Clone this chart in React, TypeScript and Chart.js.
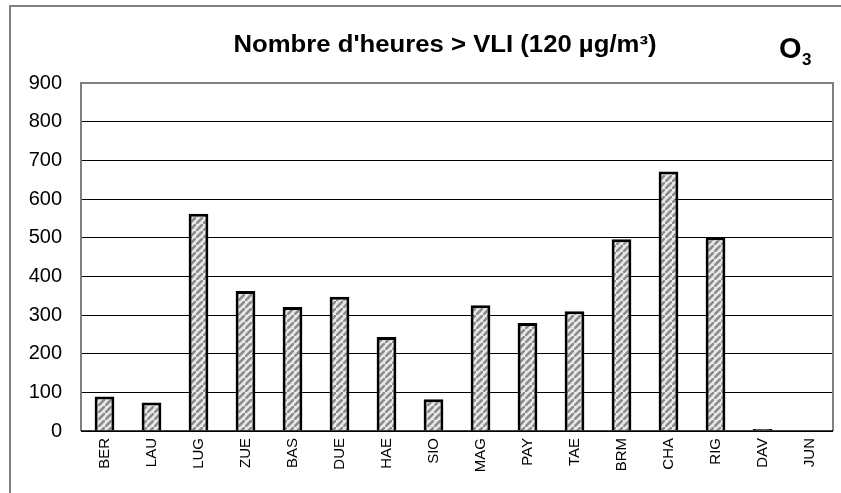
import React, { useEffect, useRef } from "react";
import { Chart, registerables } from "chart.js";

Chart.register(...registerables);

const stations = ["BER", "LAU", "LUG", "ZUE", "BAS", "DUE", "HAE", "SIO", "MAG", "PAY", "TAE", "BRM", "CHA", "RIG", "DAV", "JUN"];
const hoursAboveLimit = [89, 74, 562, 362, 321, 347, 243, 82, 325, 279, 310, 496, 671, 501, 5, 0];
const yTicks = [0, 100, 200, 300, 400, 500, 600, 700, 800, 900];
const titleText = "Nombre d'heures > VLI (120 µg/m³)";

function makePattern(): CanvasPattern | string {
  const s = 7;
  const c = document.createElement("canvas");
  c.width = s;
  c.height = s;
  const g = c.getContext("2d");
  if (!g) return "#aaa";
  g.fillStyle = "#e8e8e8";
  g.fillRect(0, 0, s, s);
  g.strokeStyle = "#8c8c8c";
  g.lineWidth = 2.6;
  const seg = (x1: number, y1: number, x2: number, y2: number) => {
    g.beginPath();
    g.moveTo(x1, y1);
    g.lineTo(x2, y2);
    g.stroke();
  };
  seg(-1, s + 1, s + 1, -1);
  seg(-s - 1, 1, 1, -s - 1);
  seg(s - 1, 2 * s + 1, 2 * s + 1, s - 1);
  const p = g.createPattern(c, "repeat");
  return p || "#aaa";
}

const decorPlugin = {
  id: "decor",
  afterDraw(chart: any) {
    const ctx = chart.ctx as CanvasRenderingContext2D;
    const a = chart.chartArea;
    ctx.save();
    // outer frame (left and top visible)
    ctx.strokeStyle = "#808080";
    ctx.lineWidth = 2;
    ctx.beginPath();
    ctx.moveTo(10, 493);
    ctx.lineTo(10, 6);
    ctx.lineTo(841, 6);
    ctx.stroke();
    // plot border
    ctx.strokeStyle = "#808080";
    ctx.lineWidth = 2;
    ctx.beginPath();
    ctx.moveTo(a.left, a.bottom);
    ctx.lineTo(a.left, a.top);
    ctx.lineTo(a.right, a.top);
    ctx.lineTo(a.right, a.bottom);
    ctx.stroke();
    ctx.strokeStyle = "#000";
    ctx.lineWidth = 1.5;
    ctx.beginPath();
    ctx.moveTo(a.left, a.bottom);
    ctx.lineTo(a.right, a.bottom);
    ctx.stroke();
    // title, fitted to the reference width
    ctx.fillStyle = "#000";
    ctx.textBaseline = "middle";
    ctx.textAlign = "center";
    ctx.font = 'bold 23px "Liberation Sans", Arial, sans-serif';
    const w = ctx.measureText(titleText).width;
    const sx = 423 / w;
    ctx.save();
    ctx.translate(445, 46);
    ctx.scale(sx, 1);
    ctx.fillText(titleText, 0, 0);
    ctx.restore();
    // O3
    ctx.textAlign = "left";
    ctx.textBaseline = "alphabetic";
    ctx.font = 'bold 29px "Liberation Sans", Arial, sans-serif';
    ctx.fillText("O", 779, 58);
    ctx.font = 'bold 17px "Liberation Sans", Arial, sans-serif';
    ctx.fillText("3", 802, 65);
    ctx.restore();
  },
};

export default function App() {
  const ref = useRef<HTMLCanvasElement | null>(null);
  useEffect(() => {
    document.body.style.margin = "0";
    const canvas = ref.current;
    if (!canvas) return;
    const pattern = makePattern();
    const chart = new Chart(canvas, {
      type: "bar",
      data: {
        labels: stations,
        datasets: [
          {
            data: hoursAboveLimit,
            backgroundColor: pattern as any,
            borderColor: "#000",
            borderWidth: 3,
            barPercentage: 0.42,
            categoryPercentage: 1,
          },
        ],
      },
      options: {
        responsive: false,
        devicePixelRatio: 1,
        animation: false,
        layout: { padding: { top: 83, right: 8, left: 0, bottom: 0 } },
        plugins: { legend: { display: false }, tooltip: { enabled: false }, title: { display: false } },
        scales: {
          x: {
            grid: { display: false, drawTicks: false },
            border: { display: false },
            ticks: {
              minRotation: 90,
              maxRotation: 90,
              autoSkip: false,
              color: "#000",
              padding: 7,
              font: { family: '"Liberation Sans", Arial, sans-serif', size: 15 },
            },
            afterFit(scale: any) {
              scale.height = 62;
            },
          },
          y: {
            min: 0,
            max: 900,
            afterBuildTicks(scale: any) {
              scale.ticks = yTicks.map((v) => ({ value: v }));
            },
            grid: { color: "#000", lineWidth: 1, drawTicks: false },
            border: { display: false },
            ticks: {
              color: "#000",
              padding: 19,
              font: { family: '"Liberation Sans", Arial, sans-serif', size: 20 },
            },
            afterFit(scale: any) {
              scale.width = 81;
            },
          },
        },
      },
      plugins: [decorPlugin],
    });
    return () => chart.destroy();
  }, []);
  return (
    <div style={{ position: "absolute", left: 0, top: 0, width: 841, height: 493, background: "#fff" }}>
      <canvas ref={ref} width={841} height={493} />
    </div>
  );
}
